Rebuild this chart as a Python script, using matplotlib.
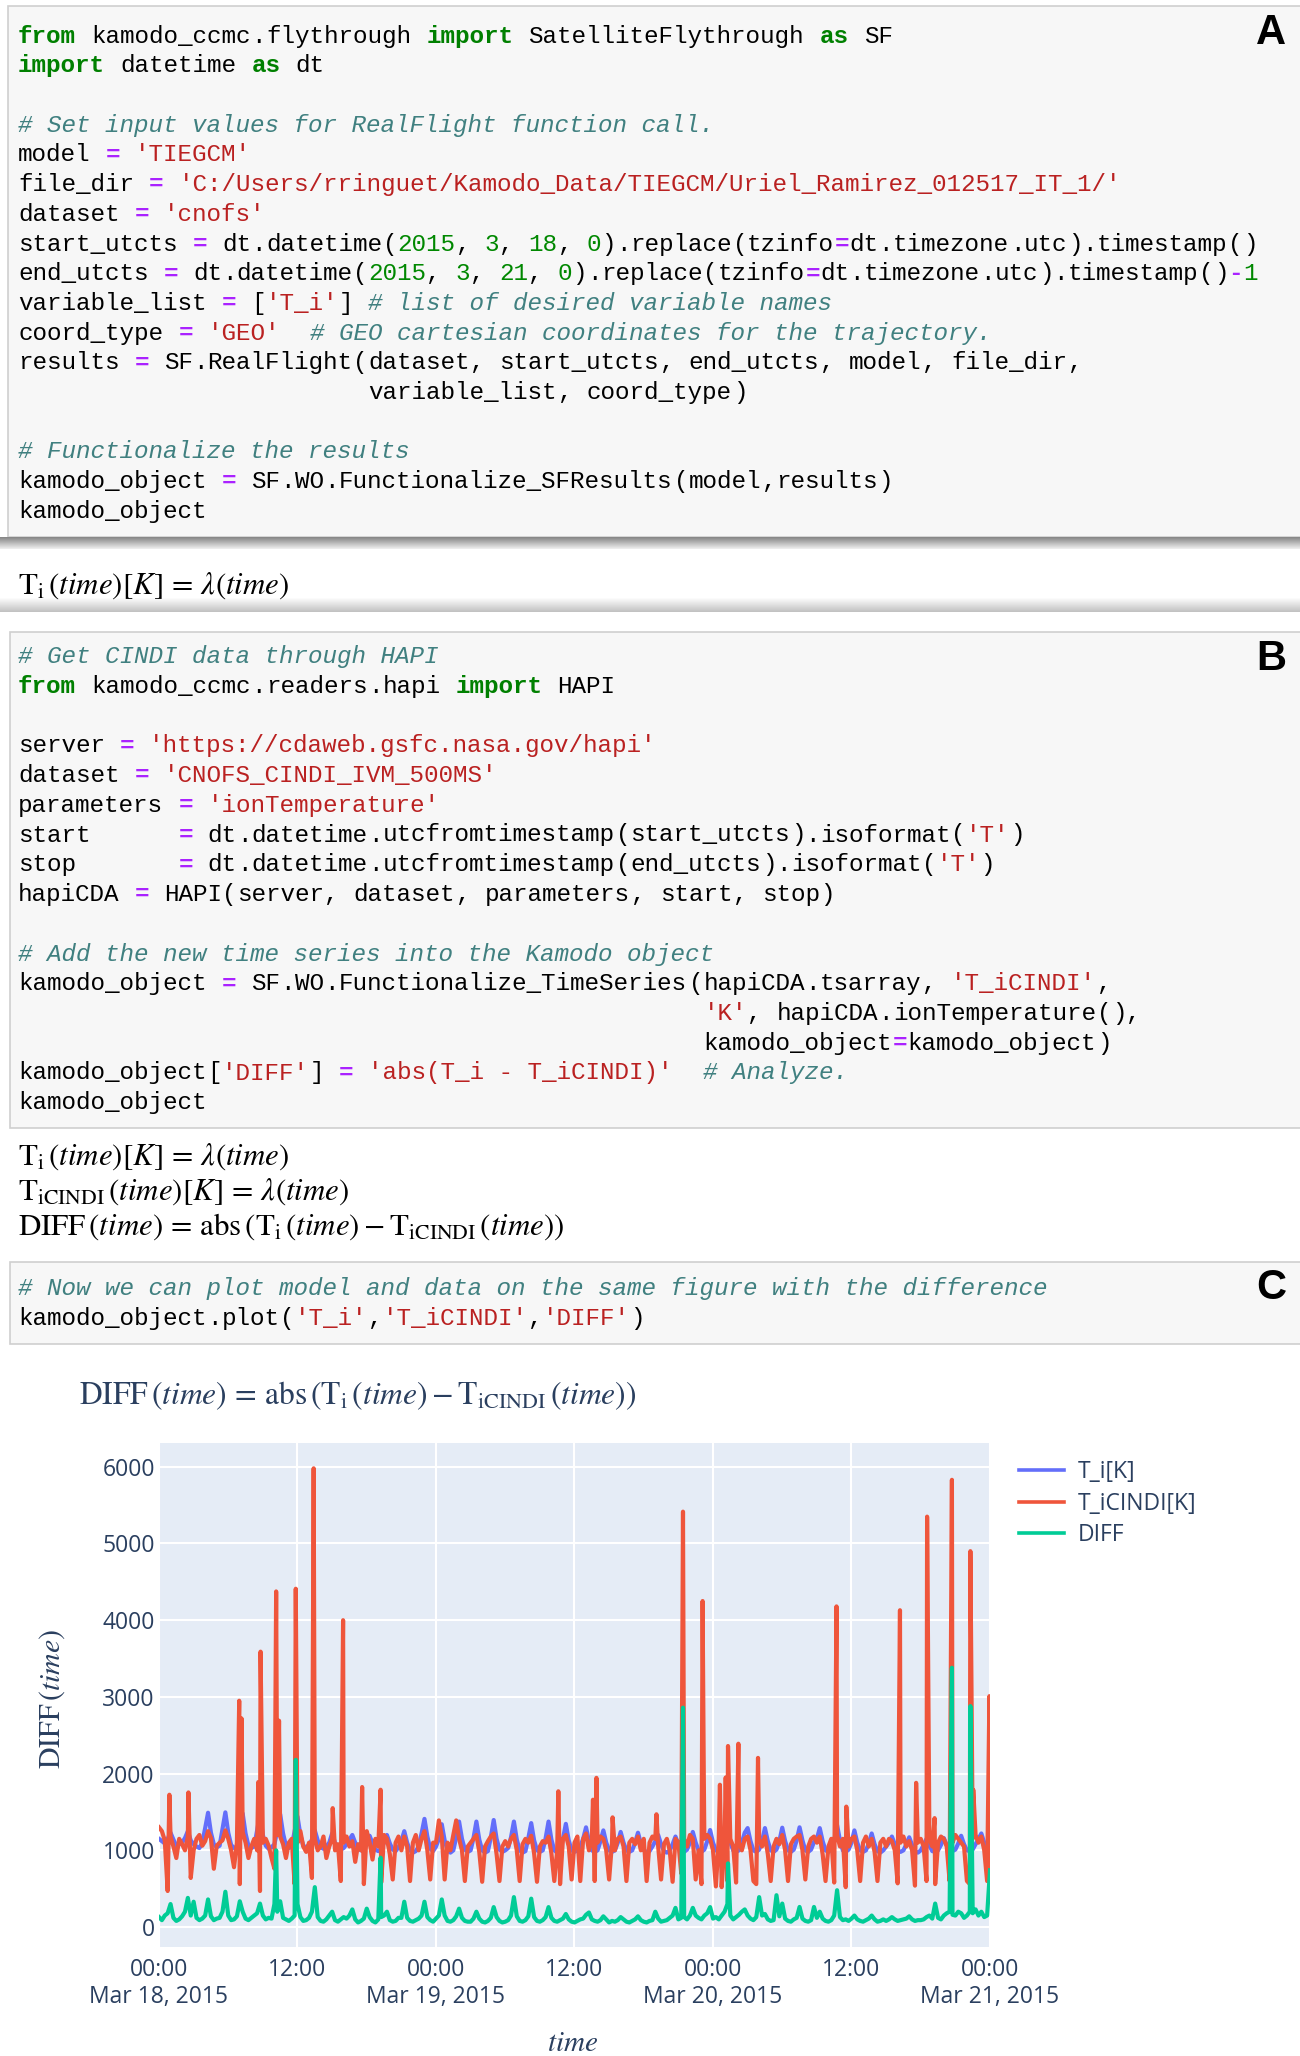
import re
import numpy as np
import pandas as pd
import matplotlib
matplotlib.use("Agg")
import matplotlib.pyplot as plt
import matplotlib.colors as mcolors
from matplotlib.patches import Rectangle

# ---------------------------------------------------------------- data
start_time = "2015-03-18 00:00"
step_minutes = 15

# model ion temperature T_i [K], one value every 15 minutes
T_i_K = [
    1150, 1120, 1090, 1150, 1230, 1140, 1060, 1080, 1100, 1160, 1250, 1130,
    1080, 1050, 1030, 1100, 1290, 1490, 1230, 1080, 1040, 1060, 1280, 1495,
    1230, 1070, 1030, 1050, 1270, 1480, 1220, 1060, 1030, 1050, 1260, 1470,
    1200, 1060, 1020, 1040, 1080, 1260, 1470, 1220, 1060, 1030, 1050, 1250,
    1440, 1200, 1060, 1040, 1070, 1140, 1260, 1130, 1040, 1020, 1050, 1100,
    1220, 1100, 1030, 1010, 1030, 1080, 1140, 1200, 1100, 1020, 1000, 1030,
    1080, 1190, 1090, 1010, 990, 1020, 1100, 1200, 1090, 1010, 990, 1040,
    1120, 1250, 1100, 1000, 970, 990, 1050, 1220, 1410, 1180, 1020, 990,
    1050, 1150, 1340, 1130, 1000, 970, 1000, 1170, 1375, 1150, 1010, 980,
    1000, 1160, 1375, 1140, 1000, 970, 990, 1170, 1395, 1150, 1010, 980,
    1000, 1030, 1170, 1375, 1140, 1000, 970, 990, 1160, 1355, 1130, 1000,
    980, 1000, 1160, 1375, 1140, 1000, 970, 990, 1150, 1345, 1130, 1000,
    980, 1000, 1050, 1150, 1300, 1120, 1000, 980, 1000, 1120, 1260, 1100,
    1000, 980, 1000, 1100, 1240, 1100, 1000, 980, 1000, 1100, 1230, 1090,
    1000, 980, 990, 1050, 1120, 1200, 1080, 990, 970, 1000, 1080, 1180,
    1080, 1000, 980, 1010, 1100, 1240, 1100, 1000, 980, 1010, 1120, 1265,
    1100, 1000, 980, 1020, 1120, 1250, 1100, 1000, 980, 1000, 1100, 1230,
    1290, 1120, 1000, 980, 1010, 1120, 1290, 1120, 1000, 980, 1010, 1120,
    1295, 1120, 1000, 980, 1010, 1130, 1300, 1130, 1000, 980, 1010, 1110,
    1150, 1290, 1120, 1000, 980, 1010, 1130, 1330, 1130, 1000, 980, 1010,
    1100, 1260, 1100, 1000, 980, 1000, 1090, 1220, 1080, 990, 970, 1000,
    1050, 1100, 1180, 1080, 1000, 980, 1000, 1080, 1170, 1070, 990, 970,
    1000, 1070, 1150, 1060, 990, 980, 1000, 1070, 1160, 1070, 1000, 990,
    1010, 1090, 1190, 1080, 1000, 990, 1010, 1080, 1150, 1220, 1100, 1020,
    1050,
]

# CINDI ion temperature T_iCINDI [K], one value every 15 minutes
T_iCINDI_K = [
    1300, 1250, 1130, 470, 1180, 1050, 900, 1150, 1080, 1000, 1180, 640,
    1000, 1150, 1200, 1060, 1120, 1250, 1160, 760, 1060, 1100, 1130, 1260,
    1150, 1000, 780, 1100, 560, 1240, 1100, 900, 1050, 1150, 1000, 470,
    1100, 1150, 1060, 900, 760, 1200, 1180, 1080, 900, 1100, 1150, 560,
    1100, 1250, 1050, 980, 1100, 640, 1150, 1000, 1050, 1180, 900, 1050,
    1150, 1000, 1080, 600, 1100, 1180, 1050, 1120, 850, 1080, 1000, 560,
    1250, 1100, 880, 1150, 1050, 580, 1200, 1150, 950, 620, 1100, 1180,
    1000, 1180, 1050, 600, 1100, 1200, 1000, 1150, 1250, 1000, 620, 1100,
    1100, 1390, 1180, 620, 1100, 1000, 1200, 1390, 1150, 1000, 600, 1050,
    1100, 1150, 1200, 980, 590, 1050, 1120, 1180, 1220, 950, 600, 1050,
    1120, 1050, 1150, 1200, 1000, 600, 1080, 1150, 1100, 1190, 960, 590,
    1050, 1120, 1100, 1180, 960, 600, 1000, 560, 1150, 1200, 1050, 620,
    1100, 1180, 600, 1150, 1220, 1000, 1150, 600, 1100, 1180, 1150, 1000,
    620, 1100, 1000, 1150, 1180, 1050, 600, 1100, 1150, 1080, 1180, 1000,
    1150, 600, 1100, 1180, 1150, 1050, 620, 1080, 1150, 1000, 590, 1150,
    1100, 700, 1150, 1050, 1200, 1150, 620, 1000, 560, 1150, 1200, 1150,
    1000, 530, 1150, 520, 1100, 600, 1150, 1050, 580, 1100, 1000, 1150,
    1180, 1000, 600, 560, 1150, 1050, 1180, 950, 600, 1050, 1150, 1080,
    1200, 1000, 600, 1080, 1150, 1180, 1200, 1000, 620, 1050, 1150, 1180,
    1100, 1180, 950, 600, 1050, 1150, 580, 1200, 1050, 1150, 520, 1050,
    1150, 1180, 1000, 600, 1100, 1180, 1050, 1150, 980, 600, 1100, 1150,
    1050, 1150, 1120, 1000, 570, 1100, 1180, 1050, 1120, 1000, 540, 1100,
    1150, 1050, 600, 1150, 1050, 560, 1100, 1180, 1150, 1050, 600, 1100,
    1200, 1150, 1100, 1050, 600, 560, 1150, 1200, 1100, 1180, 1000, 600,
    760,
]

# short CINDI spikes (hours after start, K)
T_iCINDI_spike_hours = [0.9, 2.55, 6.95, 7.15, 8.6, 8.8, 10.15, 10.4, 11.85, 13.4,
                        15.05, 15.95, 17.6, 19.2, 34.6, 37.6, 37.9, 39.3, 43.1, 45.4,
                        47.1, 47.2, 48.6, 49.1, 49.3, 50.2, 51.9, 58.7, 59.55, 64.2,
                        65.6, 66.55, 67.2, 68.7, 70.3, 70.55, 71.95]
T_iCINDI_spike_K = [1725, 1755, 2950, 2720, 1890, 3590, 4375, 2690, 4410, 5980,
                    1550, 4000, 1825, 1790, 1770, 1660, 1945, 1430, 1470, 5415,
                    4250, 1990, 1855, 1950, 2360, 2390, 2205, 4180, 1570, 4130,
                    1880, 5350, 1420, 5830, 4900, 1790, 3010]

# DIFF = abs(T_i - T_iCINDI), one value every 15 minutes
DIFF_K = [
    130, 90, 150, 180, 300, 120, 80, 100, 140, 200, 380, 150,
    330, 120, 90, 110, 150, 360, 140, 90, 110, 120, 200, 460,
    150, 90, 100, 140, 336, 200, 110, 90, 120, 150, 180, 306,
    150, 100, 120, 110, 300, 200, 336, 120, 100, 80, 110, 150,
    300, 130, 80, 90, 120, 200, 520, 130, 80, 70, 100, 150,
    200, 90, 70, 100, 130, 110, 150, 230, 100, 60, 80, 110,
    240, 130, 80, 60, 100, 130, 150, 200, 90, 70, 80, 120,
    120, 330, 120, 80, 70, 90, 110, 150, 330, 130, 90, 70,
    110, 150, 360, 150, 80, 70, 90, 140, 240, 120, 80, 70,
    70, 110, 200, 110, 70, 60, 80, 120, 260, 130, 80, 60,
    70, 90, 150, 390, 140, 80, 70, 90, 140, 370, 130, 80,
    70, 90, 130, 260, 120, 80, 70, 90, 110, 170, 100, 70,
    60, 80, 100, 110, 160, 190, 100, 80, 70, 90, 140, 100,
    60, 80, 70, 90, 130, 100, 70, 60, 80, 100, 140, 90,
    70, 60, 80, 90, 200, 110, 70, 80, 90, 120, 150, 250,
    100, 120, 130, 100, 150, 250, 150, 120, 100, 150, 180, 260,
    110, 130, 100, 150, 200, 300, 150, 100, 130, 160, 200, 230,
    150, 110, 90, 130, 390, 150, 170, 100, 80, 90, 415, 140,
    306, 110, 80, 70, 100, 120, 262, 110, 80, 70, 90, 262,
    120, 200, 110, 80, 70, 90, 150, 480, 130, 90, 100, 80,
    110, 150, 100, 80, 70, 90, 110, 150, 100, 70, 80, 100,
    80, 100, 130, 100, 80, 90, 100, 110, 140, 100, 80, 90,
    90, 100, 130, 150, 110, 306, 120, 100, 150, 180, 200, 160,
    150, 200, 180, 120, 150, 200, 180, 230, 150, 200, 130, 150,
    740,
]
DIFF_spike_hours = [10.15, 11.85, 19.2, 45.4, 49.3, 68.7, 70.3]
DIFF_spike_K = [1000, 2180, 904, 2860, 830, 3380, 2880]

series_names = ["T_i[K]", "T_iCINDI[K]", "DIFF"]
y_ticks = [0, 1000, 2000, 3000, 4000, 5000, 6000]
x_tick_times = ["2015-03-18 00:00", "2015-03-18 12:00", "2015-03-19 00:00",
                "2015-03-19 12:00", "2015-03-20 00:00", "2015-03-20 12:00",
                "2015-03-21 00:00"]
x_tick_labels = ["00:00\nMar 18, 2015", "12:00", "00:00\nMar 19, 2015", "12:00",
                 "00:00\nMar 20, 2015", "12:00", "00:00\nMar 21, 2015"]

code_A = [
    "from kamodo_ccmc.flythrough import SatelliteFlythrough as SF",
    "import datetime as dt",
    "",
    "# Set input values for RealFlight function call.",
    "model = 'TIEGCM'",
    "file_dir = 'C:/Users/rringuet/Kamodo_Data/TIEGCM/Uriel_Ramirez_012517_IT_1/'",
    "dataset = 'cnofs'",
    "start_utcts = dt.datetime(2015, 3, 18, 0).replace(tzinfo=dt.timezone.utc).timestamp()",
    "end_utcts = dt.datetime(2015, 3, 21, 0).replace(tzinfo=dt.timezone.utc).timestamp()-1",
    "variable_list = ['T_i'] # list of desired variable names",
    "coord_type = 'GEO'  # GEO cartesian coordinates for the trajectory.",
    "results = SF.RealFlight(dataset, start_utcts, end_utcts, model, file_dir,",
    "                        variable_list, coord_type)",
    "",
    "# Functionalize the results",
    "kamodo_object = SF.WO.Functionalize_SFResults(model,results)",
    "kamodo_object",
]
code_B = [
    "# Get CINDI data through HAPI",
    "from kamodo_ccmc.readers.hapi import HAPI",
    "",
    "server = 'https://cdaweb.gsfc.nasa.gov/hapi'",
    "dataset = 'CNOFS_CINDI_IVM_500MS'",
    "parameters = 'ionTemperature'",
    "start      = dt.datetime.utcfromtimestamp(start_utcts).isoformat('T')",
    "stop       = dt.datetime.utcfromtimestamp(end_utcts).isoformat('T')",
    "hapiCDA = HAPI(server, dataset, parameters, start, stop)",
    "",
    "# Add the new time series into the Kamodo object",
    "kamodo_object = SF.WO.Functionalize_TimeSeries(hapiCDA.tsarray, 'T_iCINDI',",
    "                                               'K', hapiCDA.ionTemperature(),",
    "                                               kamodo_object=kamodo_object)",
    "kamodo_object['DIFF'] = 'abs(T_i - T_iCINDI)'  # Analyze.",
    "kamodo_object",
]
code_C = [
    "# Now we can plot model and data on the same figure with the difference",
    "kamodo_object.plot('T_i','T_iCINDI','DIFF')",
]
out_A = [r"$\mathrm{T}_{\mathrm{i}}\,(time)[K]\,=\,\lambda(time)$"]
out_B = [r"$\mathrm{T}_{\mathrm{i}}\,(time)[K]\,=\,\lambda(time)$",
         r"$\mathrm{T}_{\mathrm{iCINDI}}\,(time)[K]\,=\,\lambda(time)$",
         r"$\mathrm{DIFF}\,(time)\,=\,\mathrm{abs}\,(\mathrm{T}_{\mathrm{i}}\,(time) - \mathrm{T}_{\mathrm{iCINDI}}\,(time))$"]
title_tex = r"$\mathrm{DIFF}\,(time)\,=\,\mathrm{abs}\,(\mathrm{T}_{\mathrm{i}}\,(time) - \mathrm{T}_{\mathrm{iCINDI}}\,(time))$"
ylabel_tex = r"$\mathrm{DIFF}\,(time)$"
xlabel_tex = r"$time$"

# ---------------------------------------------------------------- figure
plt.rcParams["mathtext.fontset"] = "stix"
W, H = 1300, 2056
fig = plt.figure(figsize=(W / 100, H / 100), dpi=100)
fig.patch.set_facecolor("white")


def fx(x):
    return x / W


def fy(y):
    return 1 - y / H


def rect(x0, y0, x1, y1, fc, ec="none", lw=0):
    fig.patches.append(Rectangle((fx(x0), fy(y1)), (x1 - x0) / W, (y1 - y0) / H,
                                 transform=fig.transFigure, facecolor=fc,
                                 edgecolor=ec, lw=lw, zorder=0))


def hgrad(y0, y1, c0, c1):
    n = int(round(y1 - y0))
    a, b = np.array(mcolors.to_rgb(c0)), np.array(mcolors.to_rgb(c1))
    for k in range(n):
        f = k / max(n - 1, 1)
        rect(-5, y0 + k, W + 5, y0 + k + 1, tuple(a * (1 - f) + b * f))


# code cells
rect(8, 6, W + 20, 537, "#f7f7f7", "#cfcfcf", 1.2)
hgrad(537, 549, "#888888", "#ececec")
hgrad(597, 612, "#ffffff", "#c2c2c2")
rect(10, 632, W + 20, 1128, "#f7f7f7", "#cfcfcf", 1.2)
rect(10, 1262, W + 20, 1344, "#f7f7f7", "#cfcfcf", 1.2)

CODE_FONT = "Liberation Mono"
CODE_FS = 17.5
CW = 0.6 * CODE_FS * 100 / 72.0
TOKEN_RE = re.compile(r"(?P<c>#.*$)|(?P<s>'[^']*')|(?P<k>\b(?:from|import|as)\b)"
                      r"|(?P<w>[A-Za-z_]\w*)|(?P<n>\d+)|(?P<o>[=\-])|(?P<x>\s+)|(?P<p>.)")
STYLES = {
    "c": dict(color="#408080", fontstyle="italic"),
    "s": dict(color="#BA2121"),
    "k": dict(color="#008000", fontweight="bold"),
    "w": dict(color="#000000"),
    "n": dict(color="#008800"),
    "o": dict(color="#AA22FF", fontweight="bold"),
    "p": dict(color="#000000"),
}


def draw_code(lines, x0, base0, pitch):
    for i, line in enumerate(lines):
        yb = base0 + pitch * i
        for m in TOKEN_RE.finditer(line):
            kind = m.lastgroup
            if kind == "x":
                continue
            fig.text(fx(x0 + m.start() * CW), fy(yb), m.group(), family=CODE_FONT,
                     fontsize=CODE_FS, ha="left", va="baseline", **STYLES[kind])


draw_code(code_A, 18, 42.7, 29.7)
draw_code(code_B, 18, 663, 29.75)
draw_code(code_C, 18, 1295, 30)

for lab, yc in (("A", 33), ("B", 659), ("C", 1288)):
    fig.text(fx(1271), fy(yc), lab, ha="center", va="center", fontsize=30,
             fontweight="bold", family="Liberation Sans", color="black")

OUT_FS = 22.2
fig.text(fx(18), fy(594), out_A[0], fontsize=OUT_FS, ha="left", va="baseline", color="black")
for txt, yb in zip(out_B, (1165, 1200, 1235)):
    fig.text(fx(18), fy(yb), txt, fontsize=OUT_FS, ha="left", va="baseline", color="black")

# ---------------------------------------------------------------- chart
t0 = pd.Timestamp(start_time)
grid_hours = [i * step_minutes / 60.0 for i in range(len(T_i_K))]


def merged(base, sp_h, sp_v):
    pts = sorted(list(zip(grid_hours, base)) + list(zip(sp_h, sp_v)), key=lambda p: p[0])
    hrs, vals = zip(*pts)
    return [t0 + pd.Timedelta(hours=h) for h in hrs], list(vals)


tb, vb = merged(T_i_K, [], [])
tr, vr = merged(T_iCINDI_K, T_iCINDI_spike_hours, T_iCINDI_spike_K)
tg, vg = merged(DIFF_K, DIFF_spike_hours, DIFF_spike_K)

TICK_C = "#2a3f5f"
PL, PR, PT, PB = 159, 990, 1443, 1947
ax = fig.add_axes([fx(PL), fy(PB), (PR - PL) / W, (PB - PT) / H])
ax.set_facecolor("#E5ECF6")
for s in ax.spines.values():
    s.set_visible(False)

LW = 3.0
l1, = ax.plot(tb, vb, color="#636efa", lw=LW, label=series_names[0], zorder=3)
l2, = ax.plot(tr, vr, color="#EF553B", lw=LW, label=series_names[1], zorder=4)
l3, = ax.plot(tg, vg, color="#00cc96", lw=LW, label=series_names[2], zorder=5)

ax.set_xlim(pd.Timestamp(x_tick_times[0]), pd.Timestamp(x_tick_times[-1]))
ax.set_ylim(-260, 6310)
ax.set_yticks(y_ticks)
ax.set_yticklabels([str(v) for v in y_ticks])
ax.set_xticks([pd.Timestamp(t) for t in x_tick_times])
ax.set_xticklabels(x_tick_labels, linespacing=1.15)
ax.grid(True, color="white", lw=1.5, zorder=1)
ax.set_axisbelow(True)
ax.tick_params(axis="both", length=0, labelsize=16.5, labelcolor=TICK_C)
ax.tick_params(axis="y", pad=3)
ax.tick_params(axis="x", pad=8)
for lab in ax.get_xticklabels() + ax.get_yticklabels():
    lab.set_family("Open Sans")

leg = ax.legend(handles=[l1, l2, l3], loc="upper left",
                bbox_to_anchor=(fx(1019), fy(1460)), bbox_transform=fig.transFigure,
                frameon=False, borderpad=0, borderaxespad=0, handlelength=1.95,
                handletextpad=0.6, labelspacing=0.33,
                prop={"family": "Open Sans", "size": 16.5})
for ln in leg.get_lines():
    ln.set_linewidth(2.6)
for t in leg.get_texts():
    t.set_color(TICK_C)

fig.text(fx(79), fy(1404), title_tex, fontsize=22.7, ha="left", va="baseline", color=TICK_C)
fig.text(fx(52), fy(1699), ylabel_tex, fontsize=21.5, rotation=90, ha="center",
         va="center", color=TICK_C)
fig.text(fx(573), fy(2043), xlabel_tex, fontsize=21, ha="center", va="center", color=TICK_C)

fig.savefig("out.png", dpi=100, facecolor="white")
